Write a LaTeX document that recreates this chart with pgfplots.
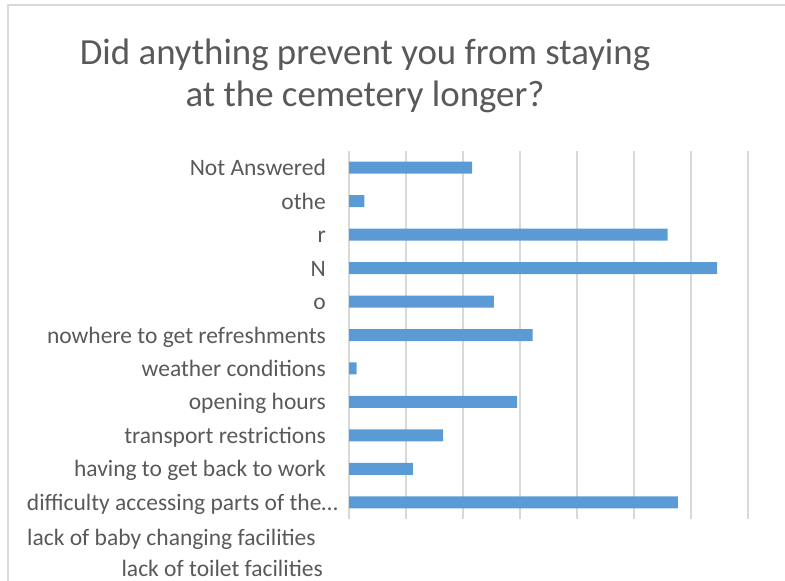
\documentclass[border=0pt]{standalone}
\usepackage{fontspec}
\setmainfont{Carlito}
\usepackage{pgfplots}
\pgfplotsset{compat=1.18}
\definecolor{barblue}{HTML}{5B9BD5}
\definecolor{gridgrey}{HTML}{D9D9D9}
\definecolor{txtgrey}{HTML}{595959}

\begin{document}
\begin{tikzpicture}[x=1bp,y=1bp]
\useasboundingbox (0,0) rectangle (785,-581);
\draw[gridgrey, line width=1.5bp] (8,-590) -- (8,-5) -- (800,-5);
\node[align=center, text=txtgrey, font=\fontsize{37}{42}\selectfont] at (365,-76)
  {Did anything prevent you from staying\\at the cemetery longer?};
\begin{axis}[
    at={(349bp,-519bp)}, anchor=south west,
    scale only axis, width=399bp, height=368bp,
    xbar, bar width=12bp,
    xmin=0, xmax=7, ymin=-0.5, ymax=10.5,
    y dir=reverse,
    xtick={0,...,7}, xticklabels={},
    ytick={0,...,10},
    yticklabels={Not Answered, othe, r, N, o, nowhere to get refreshments,
      weather conditions, opening hours, transport restrictions,
      having to get back to work, difficulty accessing parts of the…\hspace*{-12bp}},
    yticklabel style={anchor=base east, inner sep=0pt, xshift=-23bp, yshift=-8bp,
      text=txtgrey, font=\fontsize{23.6}{27}\selectfont},
    major tick length=0,
    axis line style={draw=none},
    xmajorgrids, grid style={gridgrey, line width=1.5bp},
    clip=false,
]
\addplot[fill=barblue, draw=none] coordinates {
  (2.16,0) (0.27,1) (5.59,2) (6.46,3) (2.54,4) (3.22,5)
  (0.135,6) (2.95,7) (1.65,8) (1.12,9) (5.77,10)};
\end{axis}
\node[anchor=base west, inner sep=0pt, text=txtgrey, font=\fontsize{23.6}{27}\selectfont]
  at (27,-545) {lack of baby changing facilities};
\node[anchor=base east, inner sep=0pt, text=txtgrey, font=\fontsize{23.6}{27}\selectfont]
  at (323,-576) {lack of toilet facilities};
\end{tikzpicture}
\end{document}
